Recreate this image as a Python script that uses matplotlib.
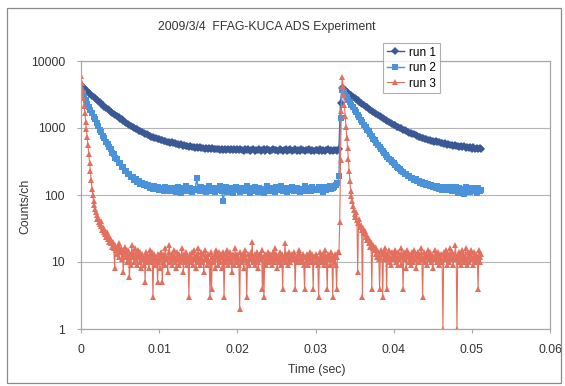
import numpy as np
import matplotlib.pyplot as plt
from matplotlib.patches import Rectangle
from matplotlib.ticker import NullLocator

# sampling steps of the counts (sec)
dt = 0.0002     # run 1, run 2
dt3 = 0.0001    # run 3

run1 = [
    4350, 4120, 3950, 3720, 3570, 3370, 3230, 3050, 2930, 2770,
    2660, 2520, 2430, 2290, 2210, 2090, 2020, 1910, 1850, 1760,
    1700, 1610, 1570, 1490, 1450, 1370, 1340, 1270, 1245, 1185,
    1160, 1100, 1085, 1030, 1015, 965, 955, 910, 900, 860,
    855, 815, 810, 775, 770, 740, 738, 705, 706, 680,
    680, 662, 668, 645, 650, 620, 628, 605, 612, 590,
    590, 575, 582, 562, 570, 548, 556, 538, 545, 528,
    534, 515, 526, 508, 520, 502, 512, 495, 508, 490,
    503, 486, 498, 482, 495, 478, 492, 480, 490, 476,
    488, 472, 486, 470, 484, 468, 482, 471, 480, 466,
    478, 462, 485, 470, 455, 480, 468, 490, 458, 472,
    483, 460, 475, 466, 488, 452, 470, 479, 461, 484,
    467, 455, 476, 490, 463, 471, 450, 482, 468, 459,
    474, 486, 457, 469, 478, 452, 465, 483, 460, 471,
    456, 479, 467, 448, 475, 462, 487, 458, 470, 453,
    476, 464, 449, 481, 460, 472, 455, 467, 484, 451,
    469, 458, 477, 462, 455, 480, 2400, 3950, 3760, 3630,
    3440, 3330, 3160, 3060, 2900, 2810, 2670, 2590, 2460, 2390,
    2260, 2200, 2090, 2040, 1930, 1880, 1790, 1750, 1665, 1625,
    1550, 1515, 1445, 1410, 1350, 1325, 1265, 1240, 1185, 1165,
    1115, 1095, 1050, 1035, 990, 985, 940, 935, 890, 885,
    850, 845, 812, 808, 775, 772, 745, 742, 718, 716,
    692, 695, 668, 670, 645, 650, 628, 640, 610, 615,
    592, 603, 580, 590, 565, 578, 552, 565, 545, 552,
    535, 545, 522, 538, 512, 530, 505, 525, 498, 518,
    492, 512, 488, 508, 482, 502, 478,
]

run2 = [
    3700, 3310, 2930, 2630, 2320, 2090, 1840, 1670, 1470, 1340,
    1180, 1080, 945, 870, 765, 710, 625, 585, 515, 482,
    428, 405, 360, 344, 305, 296, 262, 258, 230, 228,
    204, 205, 184, 186, 168, 171, 156, 160, 146, 152,
    140, 146, 134, 141, 128, 137, 124, 134, 121, 130,
    118, 128, 122, 115, 131, 119, 126, 113, 129, 120,
    124, 112, 133, 118, 108, 127, 121, 136, 114, 119,
    129, 110, 125, 117, 180, 122, 113, 131, 118, 126,
    109, 123, 134, 116, 120, 128, 111, 125, 119, 137,
    115, 80, 122, 130, 112, 118, 127, 106, 121, 133,
    117, 124, 110, 129, 120, 114, 135, 119, 108, 126,
    122, 131, 116, 112, 128, 118, 125, 107, 121, 134,
    119, 113, 127, 122, 109, 130, 117, 124, 138, 115,
    121, 128, 111, 126, 119, 132, 114, 123, 129, 118,
    110, 125, 120, 135, 116, 122, 128, 113, 131, 119,
    124, 117, 133, 121, 126, 112, 130, 118, 125, 136,
    122, 128, 131, 140, 150, 190, 1400, 3700, 3400, 3110,
    2870, 2600, 2410, 2190, 2030, 1840, 1710, 1555, 1445, 1315,
    1225, 1115, 1040, 948, 888, 810, 760, 695, 652, 598,
    563, 518, 488, 452, 426, 395, 375, 348, 332, 309,
    296, 277, 266, 250, 242, 228, 221, 208, 204, 192,
    189, 179, 177, 168, 171, 160, 163, 150, 156, 145,
    150, 140, 146, 135, 142, 131, 138, 127, 135, 124,
    133, 120, 131, 118, 129, 117, 132, 114, 128, 116,
    130, 108, 127, 118, 125, 104, 131, 115, 122, 110,
    128, 113, 121, 106, 126, 115, 120,
]

run3 = [
    6000, 4700, 3600, 2800, 2100, 1650, 1250, 960, 730, 550, 410, 300, 225, 165, 125, 100, 82, 70, 62, 55,
    50, 44, 46, 40, 37, 41, 34, 30, 33, 28, 31, 26, 24, 28, 22, 25, 20, 23, 19, 21,
    17, 20, 16, 8, 18, 15, 13, 17, 12, 19, 14, 16, 11, 15, 7, 13, 17, 12, 14, 10,
    15, 11, 6, 13, 9, 18, 12, 14, 10, 16, 11, 13, 9, 15, 12, 10, 14, 8, 13, 11,
    9, 12, 5, 14, 10, 13, 11, 8, 15, 12, 10, 14, 3, 11, 13, 9, 12, 10, 5, 13,
    11, 8, 14, 12, 5, 10, 13, 9, 16, 11, 12, 7, 14, 18, 10, 12, 9, 13, 11, 15,
    10, 12, 8, 14, 11, 9, 13, 10, 12, 16, 11, 7, 13, 10, 14, 12, 9, 11, 3, 13,
    12, 10, 14, 9, 11, 15, 12, 8, 13, 10, 16, 11, 9, 14, 12, 10, 13, 7, 11, 15,
    12, 9, 13, 11, 10, 3, 14, 4, 12, 10, 11, 13, 8, 15, 12, 9, 14, 11, 10, 13,
    12, 8, 14, 3, 11, 13, 10, 15, 9, 12, 11, 14, 10, 7, 13, 12, 9, 16, 11, 10,
    13, 12, 9, 2, 14, 11, 10, 13, 8, 12, 15, 11, 3, 10, 13, 9, 12, 14, 11, 20,
    10, 12, 13, 9, 11, 14, 10, 8, 12, 13, 11, 15, 4, 12, 3, 10, 13, 9, 11, 14,
    12, 10, 13, 11, 9, 14, 12, 10, 16, 11, 13, 8, 12, 10, 14, 11, 9, 13, 4, 12,
    11, 19, 10, 13, 12, 9, 14, 11, 10, 12, 13, 11, 11, 14, 4, 12, 10, 13, 11, 15,
    13, 10, 12, 11, 13, 9, 4, 12, 10, 13, 11, 9, 12, 14, 10, 11, 13, 4, 12, 12,
    10, 13, 12, 9, 3, 11, 14, 10, 12, 13, 11, 9, 15, 12, 10, 4, 13, 11, 12, 9,
    14, 11, 3, 12, 10, 13, 9, 4, 12, 14, 14, 40, 330, 1800, 5800, 4300, 3100, 2200, 1500, 1050,
    720, 500, 340, 230, 160, 115, 95, 80, 68, 60, 52, 47, 56, 42, 7, 38, 44, 33, 36, 30,
    3, 32, 27, 29, 24, 26, 21, 23, 19, 22, 17, 20, 4, 18, 16, 15, 17, 13, 16, 12,
    14, 11, 4, 12, 15, 13, 3, 14, 11, 16, 12, 4, 13, 11, 15, 10, 12, 9, 14, 11,
    13, 11, 15, 10, 12, 9, 14, 11, 13, 9, 16, 12, 4, 14, 11, 13, 8, 15, 12, 10,
    13, 11, 9, 14, 12, 10, 15, 11, 13, 8, 12, 14, 10, 13, 11, 16, 12, 3, 11, 14,
    10, 12, 13, 9, 15, 11, 12, 14, 10, 13, 8, 12, 11, 15, 13, 10, 12, 14, 9, 11,
    13, 12, 10, 1, 14, 11, 12, 15, 9, 13, 11, 10, 16, 12, 14, 11, 9, 13, 12, 18,
    11, 1, 13, 10, 14, 12, 9, 15, 11, 13, 10, 12, 16, 11, 9, 14, 12, 10, 13, 15,
    11, 12, 9, 14, 10, 13, 12, 11, 4, 15, 12, 10, 13,
]

series_names = ["run 1", "run 2", "run 3"]
series_colors = ["#3b5896", "#4a93da", "#e3705e"]
series_markers = ["D", "s", "^"]
series_steps = [dt, dt, dt3]

x_ticks = [0, 0.01, 0.02, 0.03, 0.04, 0.05, 0.06]
x_labels = ["0", "0.01", "0.02", "0.03", "0.04", "0.05", "0.06"]
y_ticks = [1, 10, 100, 1000, 10000]
y_labels = ["1", "10", "100", "1000", "10000"]

plt.rcParams['font.family'] = ['Liberation Sans', 'DejaVu Sans']

W, H = 565, 386
fig = plt.figure(figsize=(W / 100, H / 100), dpi=100)
fig.patches.append(Rectangle((7 / W, 1 - 383 / H), 554 / W, 375 / H,
                             transform=fig.transFigure, fill=False,
                             edgecolor="#8a8a8a", lw=0.9))

ax = fig.add_axes([81 / W, 1 - 329 / H, 469 / W, 268 / H])

sizes = [4.0, 4.4, 4.2]
widths = [1.0, 1.0, 0.8]
for vals, name, col, mk, ms, lw, step in zip([run1, run2, run3], series_names,
                                             series_colors, series_markers,
                                             sizes, widths, series_steps):
    t = np.arange(len(vals)) * step
    ax.plot(t, vals, '-', color=col, lw=lw, marker=mk, ms=ms,
            markeredgewidth=0, label=name)

ax.set_yscale('log')
ax.set_xlim(0, 0.06)
ax.set_ylim(1, 10000)
ax.set_xticks(x_ticks)
ax.set_xticklabels(x_labels)
ax.set_yticks(y_ticks)
ax.set_yticklabels(y_labels)
ax.yaxis.set_minor_locator(NullLocator())
ax.grid(axis='y', color='#b4b4b4', lw=0.8)
ax.set_axisbelow(True)
for s in ax.spines.values():
    s.set_color('#a8a8a8')
    s.set_linewidth(0.9)
ax.tick_params(length=3, color='#a8a8a8', labelsize=8.8, labelcolor='#333333')
ax.tick_params(axis='y', pad=8.5)
ax.tick_params(axis='x', pad=8)

fig.text(267 / W, 1 - 27 / H, "2009/3/4  FFAG-KUCA ADS Experiment",
         ha='center', va='center', fontsize=8.8, color='#333333')
fig.text(317 / W, 1 - 370 / H, "Time (sec)", ha='center', va='center',
         fontsize=8.8, color='#333333')
fig.text(25 / W, 1 - 206 / H, "Counts/ch", ha='center', va='center',
         rotation=90, fontsize=8.8, color='#333333')

leg = ax.legend(loc='upper left', bbox_to_anchor=(383 / W, 1 - 43 / H),
                bbox_transform=fig.transFigure, fontsize=8.5, frameon=True,
                fancybox=False, borderaxespad=0, handlelength=1.5,
                handletextpad=0.4, labelspacing=0.3, borderpad=0.3)
leg.get_frame().set_edgecolor('#9a9a9a')
leg.get_frame().set_linewidth(0.8)

fig.savefig("out.png", dpi=100)
